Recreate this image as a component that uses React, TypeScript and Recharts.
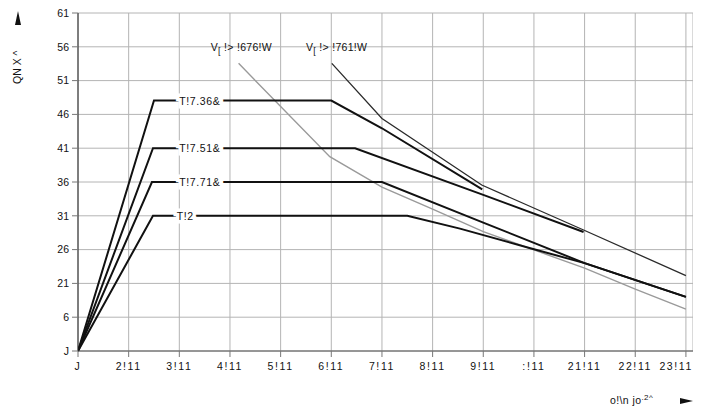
import React from 'react';
import { LineChart, Line, XAxis, YAxis, CartesianGrid, ReferenceDot } from 'recharts';

// tick labels exactly as printed on the sheet
const xTickLabels = ['J', '2!11', '3!11', '4!11', '5!11', '6!11', '7!11', '8!11', '9!11', ':!11', '21!11', '22!11', '23!11'];
const yTickLabels = ['J', '6', '21', '26', '31', '36', '41', '46', '51', '56', '61'];
const xTicks = xTickLabels.map((_, i) => i);
const yTicks = yTickLabels.map((_, i) => i);

// x = tick index along speed axis, y = tick index along vertical axis
const curveS625 = [
  { x: 0, y: 0 }, { x: 1.5, y: 7.41 }, { x: 5.0, y: 7.41 }, { x: 6.0, y: 6.59 }, { x: 7.98, y: 4.78 },
];
const curveS640 = [
  { x: 0, y: 0 }, { x: 1.48, y: 6.0 }, { x: 5.47, y: 6.0 }, { x: 8.0, y: 4.62 }, { x: 9.98, y: 3.52 },
];
const curveS660 = [
  { x: 0, y: 0 }, { x: 1.46, y: 5.0 }, { x: 6.0, y: 5.0 }, { x: 8.0, y: 3.8 }, { x: 10.0, y: 2.6 }, { x: 12.0, y: 1.6 },
];
const curveS1 = [
  { x: 0, y: 0 }, { x: 1.48, y: 4.0 }, { x: 6.5, y: 4.0 }, { x: 7.54, y: 3.62 }, { x: 8.93, y: 3.04 },
  { x: 10.0, y: 2.6 }, { x: 12.0, y: 1.6 },
];
const limit761 = [
  { x: 5.01, y: 8.51 }, { x: 6.0, y: 6.88 }, { x: 7.97, y: 4.91 }, { x: 9.98, y: 3.58 }, { x: 12.0, y: 2.23 },
];
const limit676 = [
  { x: 3.17, y: 8.51 }, { x: 4.97, y: 5.75 }, { x: 6.0, y: 4.85 }, { x: 7.0, y: 4.2 }, { x: 8.0, y: 3.53 },
  { x: 9.0, y: 2.99 }, { x: 10.0, y: 2.45 }, { x: 11.0, y: 1.83 }, { x: 12.0, y: 1.24 },
];

const dutyLabels = [
  { text: 'T!7.36&', x: 2.0, y: 7.41 },
  { text: 'T!7.51&', x: 2.0, y: 6.0 },
  { text: 'T!7.71&', x: 2.0, y: 5.0 },
  { text: 'T!2', x: 1.95, y: 4.0 },
];
const voltLabels = [
  { main: 'V', sub: '[', rest: '!> !676!W', x: 2.62, y: 9.0 },
  { main: 'V', sub: '[', rest: '!> !761!W', x: 4.5, y: 9.0 },
];

const font = '"Liberation Sans", Arial, sans-serif';

const DutyTag = ({ cx, cy, text }: any) => (
  <text x={cx} y={cy} dy={4} fontSize={10.5} fontFamily={font} fill="#111" letterSpacing={0.6}
    stroke="#fff" strokeWidth={7} paintOrder="stroke" textAnchor="start">
    {text}
  </text>
);

const VoltTag = ({ cx, cy, main, sub, rest }: any) => (
  <text x={cx} y={cy} dy={4} fontSize={10.5} fontFamily={font} fill="#111" textAnchor="start" letterSpacing={0.3}>
    {main}
    <tspan dy={3} fontSize={9}>{sub}</tspan>
    <tspan dy={-3}>{' ' + rest}</tspan>
  </text>
);

const XTick = ({ x, y, payload }: any) => {
  const last = payload.value === xTicks[xTicks.length - 1];
  return (
    <text x={last ? x + 7 : x} y={y} dy={10} fontSize={10.5} fontFamily={font} fill="#111"
      letterSpacing={1.6} textAnchor={last ? 'end' : 'middle'}>
      {xTickLabels[payload.value]}
    </text>
  );
};

export default function App() {
  return (
    <div style={{ position: 'relative', width: 693, height: 401 }}>
      <LineChart width={693} height={401} margin={{ top: 5, right: 8, bottom: 28, left: 25 }}>
        <CartesianGrid stroke="#b4b4b4" strokeWidth={1} />
        <XAxis type="number" dataKey="x" domain={[0, 12.14]} ticks={xTicks} allowDataOverflow
          height={30} interval={0} axisLine={{ stroke: '#555' }} tickLine={{ stroke: '#777' }}
          tickSize={6} tickMargin={3} tick={<XTick />} />
        <YAxis type="number" dataKey="y" domain={[0, 10]} ticks={yTicks} interval={0}
          tickFormatter={(v: number) => yTickLabels[v]} width={45}
          axisLine={{ stroke: '#222' }} tickLine={{ stroke: '#777' }} tickSize={6} tickMargin={3}
          tick={{ fontSize: 10.5, fill: '#111', fontFamily: font }} />
        <Line data={limit676} dataKey="y" stroke="#9a9a9a" strokeWidth={1.4} dot={false} isAnimationActive={false} />
        <Line data={limit761} dataKey="y" stroke="#2a2a2a" strokeWidth={1.3} dot={false} isAnimationActive={false} />
        <Line data={curveS1} dataKey="y" stroke="#111" strokeWidth={2} dot={false} isAnimationActive={false} />
        <Line data={curveS660} dataKey="y" stroke="#111" strokeWidth={2} dot={false} isAnimationActive={false} />
        <Line data={curveS640} dataKey="y" stroke="#111" strokeWidth={2} dot={false} isAnimationActive={false} />
        <Line data={curveS625} dataKey="y" stroke="#111" strokeWidth={2} dot={false} isAnimationActive={false} />
        {dutyLabels.map((l) => (
          <ReferenceDot key={l.text} x={l.x} y={l.y} r={0}
            shape={(p: any) => <DutyTag cx={p.cx} cy={p.cy} text={l.text} />} />
        ))}
        {voltLabels.map((l) => (
          <ReferenceDot key={l.rest} x={l.x} y={l.y} r={0}
            shape={(p: any) => <VoltTag cx={p.cx} cy={p.cy} main={l.main} sub={l.sub} rest={l.rest} />} />
        ))}
      </LineChart>
      <svg width={693} height={401} style={{ position: 'absolute', left: 0, top: 0, pointerEvents: 'none' }}>
        <text transform="translate(13,76) rotate(-90)" fontSize={10.5} fontFamily={font} fill="#111">QN X ^</text>
        <polygon points="10,3 7,17 13,17" fill="#111" />
        <text x={602} y={396} fontSize={10.5} fontFamily={font} fill="#111" letterSpacing={0.4}>
          o!\n jo<tspan dy={-4} fontSize={8}>.2^</tspan>
        </text>
        <polygon points="685,393 672,390 672,396" fill="#111" />
      </svg>
    </div>
  );
}
